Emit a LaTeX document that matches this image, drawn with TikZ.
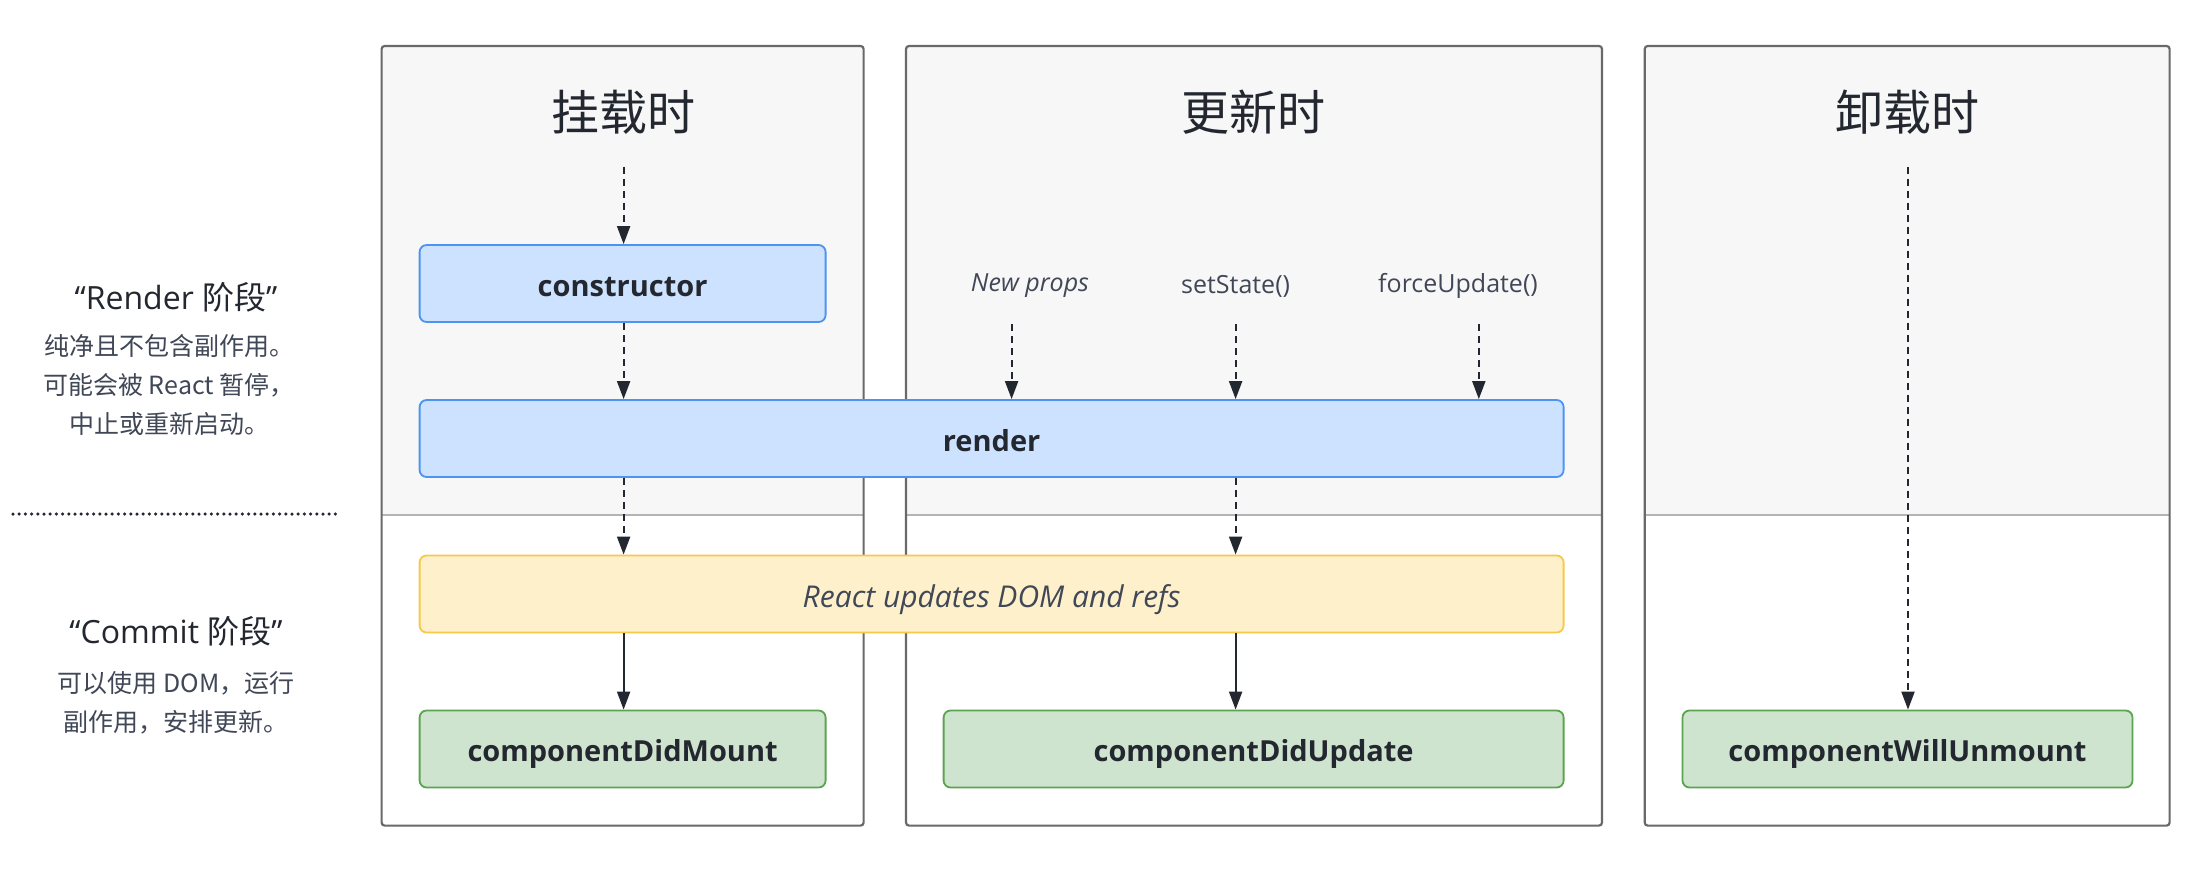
\documentclass[tikz,border=0pt]{standalone}
\usepackage{fontspec}
\setmainfont{Open Sans}
\newfontfamily\cjk{Noto Sans CJK SC}
\usetikzlibrary{arrows.meta,positioning}
\definecolor{ink}{HTML}{23272F}
\definecolor{softink}{HTML}{404756}
\definecolor{panelbg}{HTML}{F7F7F7}
\definecolor{panelline}{HTML}{696969}
\definecolor{splitline}{HTML}{B4B4B4}
\definecolor{bluefill}{HTML}{CCE2FE}
\definecolor{blueline}{HTML}{4C94F0}
\definecolor{yellowfill}{HTML}{FDF0CB}
\definecolor{yellowline}{HTML}{F6C94A}
\definecolor{greenfill}{HTML}{CFE4CE}
\definecolor{greenline}{HTML}{5BA450}
\tikzset{
  panel/.style={draw=panelline, line width=2.2pt, rounded corners=3pt},
  stagebox/.style={rounded corners=7pt, line width=1.8pt, minimum height=77pt, inner sep=0pt,
    text height=25pt, text depth=0pt,
    text=ink, font=\fontsize{29}{32}\selectfont\bfseries},
  bluebox/.style={stagebox, draw=blueline, fill=bluefill},
  yellowbox/.style={stagebox, draw=yellowline, fill=yellowfill, text=softink,
    text height=27pt, font=\fontsize{30}{33}\selectfont\itshape},
  greenbox/.style={stagebox, draw=greenline, fill=greenfill},
  title/.style={text=ink, font=\cjk\fontsize{48}{52}\selectfont},
  trigger/.style={text=softink, font=\fontsize{25}{28}\selectfont},
  phasehead/.style={text=ink, font=\fontsize{32}{36}\selectfont},
  phasetext/.style={text=softink, align=center, font=\cjk\fontsize{25}{39}\selectfont},
  dasharrow/.style={draw=ink, line width=2pt, dash pattern=on 7pt off 5pt,
    -{Triangle[length=18pt,width=13pt]}},
  fullarrow/.style={draw=ink, line width=2pt, -{Triangle[length=18pt,width=13pt]}},
}
\begin{document}
\begin{tikzpicture}[x=1pt,y=-1pt]
  \useasboundingbox[fill=white] (0,0) rectangle (2202,880);
  % panels
  \fill[panelbg, rounded corners=3pt] (381.6,46) rectangle (863.6,515);
  \fill[panelbg, rounded corners=3pt] (906,46) rectangle (1602,515);
  \fill[panelbg, rounded corners=3pt] (1644.7,46) rectangle (2169.6,515);
  \draw[splitline, line width=1.8pt] (381.6,515) -- (863.6,515);
  \draw[splitline, line width=1.8pt] (906,515) -- (1602,515);
  \draw[splitline, line width=1.8pt] (1644.7,515) -- (2169.6,515);
  \draw[panel] (381.6,46) rectangle (863.6,825.6);   % mount
  \draw[panel] (906,46) rectangle (1602,825.6);      % update
  \draw[panel] (1644.7,46) rectangle (2169.6,825.6); % unmount
  \node[title] (mounttitle) at (623,112) {挂载时};
  \node[title] (updatetitle) at (1253,112) {更新时};
  \node[title] (unmounttitle) at (1907,112) {卸载时};
  % phases on the left
  \node[phasehead] (renderhead) at (176,297) {“Render {\cjk 阶段}”};
  \node[phasetext] (rendertext) at (169,385) {纯净且不包含副作用。\\可能会被 React 暂停，\\中止或重新启动。};
  \draw[ink, line width=3.5pt, line cap=round, dash pattern=on 0pt off 6.2pt] (13,514) -- (340,514);
  \node[phasehead] (commithead) at (176,631) {“Commit {\cjk 阶段}”};
  \node[phasetext] (committext) at (176,703) {可以使用 DOM，运行\\副作用，安排更新。};
  % stages
  \node[bluebox, minimum width=406pt] (constructor) at (622.6,283.5) {constructor};
  \node[bluebox, minimum width=1144pt] (render) at (991.6,438.5) {render};
  \node[yellowbox, minimum width=1144pt] (domupdate) at (991.6,594) {React updates DOM and refs};
  \node[greenbox, minimum width=406pt] (didmount) at (622.6,749) {componentDidMount};
  \node[greenbox, minimum width=620pt] (didupdate) at (1253.6,749) {componentDidUpdate};
  \node[greenbox, minimum width=450pt] (willunmount) at (1907.5,749) {componentWillUnmount};
  % triggers
  \node[trigger, font=\fontsize{25}{28}\selectfont\itshape] (newprops) at (1030,286) {New props};
  \node[trigger] (setstate) at (1235.6,286) {setState()};
  \node[trigger] (forceupdate) at (1458,286) {forceUpdate()};
  \coordinate (mountstart) at (623.6,166.6);
  \coordinate (propsstart) at (1011.6,324);
  \coordinate (statestart) at (1235.6,324);
  \coordinate (forcestart) at (1478.8,324);
  \coordinate (unmountstart) at (1908,166.6);
  % mount arrows
  \draw[dasharrow] (mountstart) -- (mountstart |- constructor.north);
  \draw[dasharrow] (constructor.south -| mountstart) -- (mountstart |- render.north);
  \draw[dasharrow] (render.south -| mountstart) -- (mountstart |- domupdate.north);
  \draw[fullarrow] (domupdate.south -| mountstart) -- (mountstart |- didmount.north);
  % update arrows
  \draw[dasharrow] (propsstart) -- (propsstart |- render.north);
  \draw[dasharrow] (statestart) -- (statestart |- render.north);
  \draw[dasharrow] (forcestart) -- (forcestart |- render.north);
  \draw[dasharrow] (render.south -| statestart) -- (statestart |- domupdate.north);
  \draw[fullarrow] (domupdate.south -| statestart) -- (statestart |- didupdate.north);
  % unmount arrow
  \draw[dasharrow] (unmountstart) -- (unmountstart |- willunmount.north);
\end{tikzpicture}
\end{document}
